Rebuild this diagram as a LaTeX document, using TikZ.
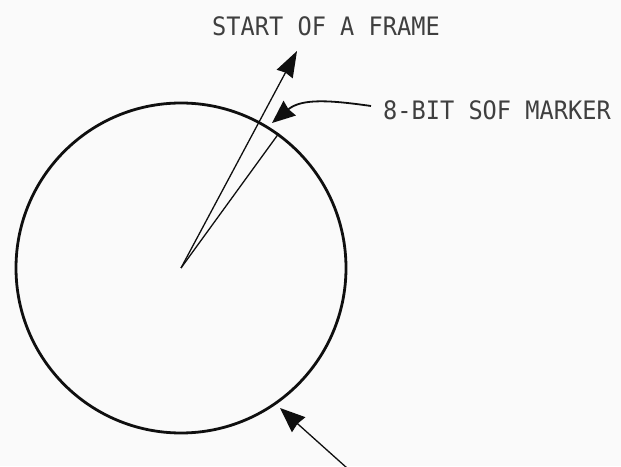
\documentclass[tikz,border=0pt]{standalone}
\usepackage{fontspec}
\newfontfamily\plotfont[FakeStretch=0.93]{DejaVu Sans Mono}
\usetikzlibrary{arrows.meta,positioning}
\definecolor{inkCol}{RGB}{15,15,15}
\definecolor{paperCol}{RGB}{250,250,250}
\tikzset{
  ring/.style={draw=inkCol,circle,line width=2.8pt,minimum size=330pt,inner sep=0pt},
  lbl/.style={font=\plotfont\fontsize{25.4}{30}\selectfont,text=inkCol!80,inner sep=0pt},
  pointer/.style={-{Stealth[length=26pt,width=18pt,inset=1.5pt]},line width=1.3pt,draw=inkCol},
  spoke/.style={line width=1.3pt,draw=inkCol},
}

\begin{document}
\begin{tikzpicture}[x=1pt,y=1pt]
  \fill[paperCol] (0,0) rectangle (621,466);
  \useasboundingbox (0,0) rectangle (621,466);
  % the frame wheel
  \node[ring] (frame) at (181,198) {};
  \coordinate (hub) at (181,198);
  \node[lbl] (sof) at (326,440) {START OF A FRAME};
  \node[lbl,anchor=west] (marker) at (383,356) {8-BIT SOF MARKER};
  \coordinate (sofTip) at (297,415);
  \coordinate (markTip) at (272,343);
  \coordinate (ringTip) at (280,58);
  \coordinate (tail) at (347,-2);
  % spokes
  \draw[pointer] (hub) -- (sofTip);
  \draw[spoke] (hub) -- (frame.54);
  % pointers
  \draw[pointer,line width=1.8pt,-{Stealth[length=23pt,width=19pt,inset=1.5pt]}]
    ([xshift=-12pt,yshift=4pt]marker.west) to[out=172,in=40] (markTip);
  \draw[pointer,-{Stealth[length=25pt,width=20pt,inset=1.5pt]}] (tail) -- (ringTip);
\end{tikzpicture}
\end{document}
